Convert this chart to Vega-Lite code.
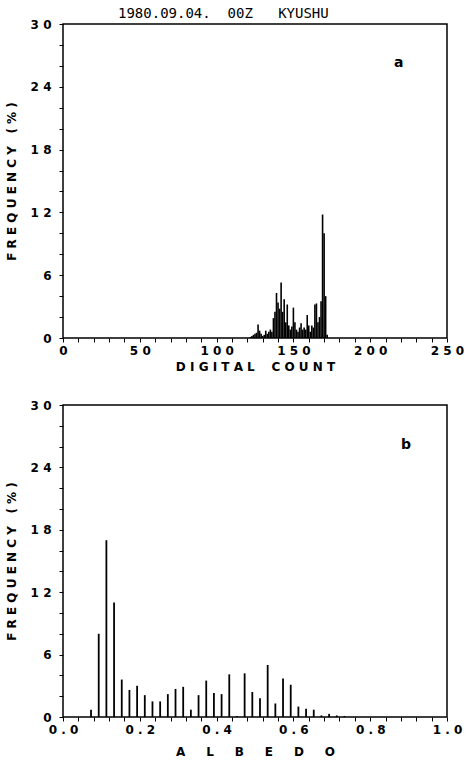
{
  "$schema": "https://vega.github.io/schema/vega-lite/v6.json",
  "background": "white",
  "padding": {"left": 4, "top": 6, "right": 0, "bottom": 0},
  "spacing": 25,
  "config": {
    "view": {"stroke": "black", "strokeWidth": 1.5},
    "axis": {
      "domain": false,
      "tickColor": "black",
      "tickSize": 4,
      "tickWidth": 1,
      "labelFont": "DejaVu Sans",
      "labelFontWeight": "bold",
      "labelFontSize": 12,
      "labelColor": "black",
      "labelOverlap": false,
      "labelFlush": false,
      "grid": false,
      "titleFont": "DejaVu Sans",
      "titleFontWeight": "bold",
      "titleFontSize": 12,
      "titleColor": "black"
    }
  },
  "datasets": {
    "dc": [
      {"count": 122, "freq": 0.1}, {"count": 123, "freq": 0.2}, {"count": 124, "freq": 0.3},
      {"count": 125, "freq": 0.4}, {"count": 126, "freq": 0.5}, {"count": 127, "freq": 1.3},
      {"count": 128, "freq": 0.7}, {"count": 129, "freq": 0.4}, {"count": 130, "freq": 0.2},
      {"count": 131, "freq": 0.3}, {"count": 132, "freq": 0.7}, {"count": 133, "freq": 0.4},
      {"count": 134, "freq": 0.6}, {"count": 135, "freq": 0.8}, {"count": 136, "freq": 0.6},
      {"count": 137, "freq": 1.9}, {"count": 138, "freq": 2.5}, {"count": 139, "freq": 4.3},
      {"count": 140, "freq": 3.4}, {"count": 141, "freq": 2.8}, {"count": 142, "freq": 5.3},
      {"count": 143, "freq": 2.5}, {"count": 144, "freq": 3.7}, {"count": 145, "freq": 1.5},
      {"count": 146, "freq": 3.2}, {"count": 147, "freq": 1.2}, {"count": 148, "freq": 0.8},
      {"count": 149, "freq": 1.1}, {"count": 150, "freq": 2.9}, {"count": 151, "freq": 1.5},
      {"count": 152, "freq": 0.8}, {"count": 153, "freq": 0.6}, {"count": 154, "freq": 1.0},
      {"count": 155, "freq": 1.4}, {"count": 156, "freq": 0.8}, {"count": 157, "freq": 1.0},
      {"count": 158, "freq": 0.8}, {"count": 159, "freq": 2.2}, {"count": 160, "freq": 1.2},
      {"count": 161, "freq": 0.6}, {"count": 162, "freq": 1.2}, {"count": 163, "freq": 1.0},
      {"count": 164, "freq": 3.2}, {"count": 165, "freq": 3.3}, {"count": 166, "freq": 1.5},
      {"count": 167, "freq": 2.0}, {"count": 168, "freq": 3.5}, {"count": 169, "freq": 11.8},
      {"count": 170, "freq": 10.0}, {"count": 171, "freq": 4.0}, {"count": 172, "freq": 0.3}
    ],
    "alb": [
      {"albedo": 0.073, "freq": 0.7}, {"albedo": 0.093, "freq": 8.0}, {"albedo": 0.113, "freq": 17.0},
      {"albedo": 0.133, "freq": 11.0}, {"albedo": 0.153, "freq": 3.6}, {"albedo": 0.173, "freq": 2.6},
      {"albedo": 0.193, "freq": 3.0}, {"albedo": 0.213, "freq": 2.1}, {"albedo": 0.233, "freq": 1.5},
      {"albedo": 0.253, "freq": 1.5}, {"albedo": 0.273, "freq": 2.2}, {"albedo": 0.293, "freq": 2.7},
      {"albedo": 0.313, "freq": 2.9}, {"albedo": 0.333, "freq": 0.7}, {"albedo": 0.353, "freq": 2.1},
      {"albedo": 0.373, "freq": 3.5}, {"albedo": 0.393, "freq": 2.3}, {"albedo": 0.413, "freq": 2.2},
      {"albedo": 0.433, "freq": 4.1}, {"albedo": 0.453, "freq": 0.1}, {"albedo": 0.473, "freq": 4.2},
      {"albedo": 0.493, "freq": 2.4}, {"albedo": 0.513, "freq": 1.8}, {"albedo": 0.533, "freq": 5.0},
      {"albedo": 0.553, "freq": 1.3}, {"albedo": 0.573, "freq": 3.7}, {"albedo": 0.593, "freq": 3.1},
      {"albedo": 0.613, "freq": 1.0}, {"albedo": 0.633, "freq": 0.8}, {"albedo": 0.653, "freq": 0.7},
      {"albedo": 0.673, "freq": 0.15}, {"albedo": 0.693, "freq": 0.3}, {"albedo": 0.713, "freq": 0.15},
      {"albedo": 0.733, "freq": 0.1}
    ],
    "labA": [{"panel": "a"}],
    "labB": [{"panel": "b"}]
  },
  "vconcat": [
    {
      "width": 384,
      "height": 314,
      "title": {
        "text": "1980.09.04.\u00a0\u00a000Z\u00a0\u00a0\u00a0KYUSHU",
        "font": "DejaVu Sans Mono",
        "fontSize": 14,
        "fontWeight": "normal",
        "color": "black",
        "anchor": "start",
        "frame": "group",
        "dx": 55,
        "offset": -3
      },
      "layer": [
        {
          "data": {"name": "dc"},
          "mark": {"type": "rule", "color": "black", "strokeWidth": 1.6},
          "encoding": {
            "x": {
              "field": "count",
              "type": "quantitative",
              "scale": {"domain": [0, 250], "nice": false, "zero": false},
              "axis": {
                "title": "D\u00a0I\u00a0G\u00a0I\u00a0T\u00a0A\u00a0L\u00a0\u00a0\u00a0\u00a0C\u00a0O\u00a0U\u00a0N\u00a0T",
                "values": [0,10,20,30,40,50,60,70,80,90,100,110,120,130,140,150,160,170,180,190,200,210,220,230,240,250],
                "tickCount": 100,
                "format": "d",
                "labelExpr": "datum.value % 50 == 0 ? join(split(datum.label, ''), '\u00a0') : ''",
                "labelOverlap": false,
                "labelPadding": 3,
                "titlePadding": 5
              }
            },
            "y": {
              "field": "freq",
              "type": "quantitative",
              "scale": {"domain": [0, 30], "nice": false},
              "axis": {
                "title": "F\u00a0R\u00a0E\u00a0Q\u00a0U\u00a0E\u00a0N\u00a0C\u00a0Y\u00a0\u00a0\u00a0(\u00a0%\u00a0)",
                "values": [0,2,4,6,8,10,12,14,16,18,20,22,24,26,28,30],
                "tickCount": 100,
                "format": "d",
                "labelExpr": "datum.value % 6 == 0 ? join(split(datum.label, ''), '\u00a0') : ''",
                "labelOverlap": false,
                "labelPadding": 8,
                "titlePadding": 12
              }
            },
            "y2": {"datum": 0}
          }
        },
        {
          "data": {"name": "labA"},
          "mark": {"type": "text", "font": "DejaVu Sans", "fontWeight": "bold", "fontSize": 14, "color": "black"},
          "encoding": {
            "text": {"field": "panel"},
            "x": {"datum": 218.5},
            "y": {"datum": 26.3}
          }
        }
      ]
    },
    {
      "width": 384,
      "height": 312,
      "layer": [
        {
          "data": {"name": "alb"},
          "mark": {"type": "rule", "color": "black", "strokeWidth": 1.8},
          "encoding": {
            "x": {
              "field": "albedo",
              "type": "quantitative",
              "scale": {"domain": [0, 1], "nice": false, "zero": false},
              "axis": {
                "title": "A\u00a0\u00a0\u00a0\u00a0\u00a0L\u00a0\u00a0\u00a0\u00a0\u00a0B\u00a0\u00a0\u00a0\u00a0\u00a0E\u00a0\u00a0\u00a0\u00a0\u00a0D\u00a0\u00a0\u00a0\u00a0\u00a0O",
                "values": [0,0.04,0.08,0.12,0.16,0.2,0.24,0.28,0.32,0.36,0.4,0.44,0.48,0.52,0.56,0.6,0.64,0.68,0.72,0.76,0.8,0.84,0.88,0.92,0.96,1.0],
                "tickCount": 100,
                "format": ".1f",
                "labelExpr": "round(datum.value * 100) % 20 == 0 ? join(split(datum.label, ''), '\u00a0') : ''",
                "labelOverlap": false,
                "labelPadding": 3,
                "titlePadding": 11
              }
            },
            "y": {
              "field": "freq",
              "type": "quantitative",
              "scale": {"domain": [0, 30], "nice": false},
              "axis": {
                "title": "F\u00a0R\u00a0E\u00a0Q\u00a0U\u00a0E\u00a0N\u00a0C\u00a0Y\u00a0\u00a0\u00a0(\u00a0%\u00a0)",
                "values": [0,2,4,6,8,10,12,14,16,18,20,22,24,26,28,30],
                "tickCount": 100,
                "format": "d",
                "labelExpr": "datum.value % 6 == 0 ? join(split(datum.label, ''), '\u00a0') : ''",
                "labelOverlap": false,
                "labelPadding": 8,
                "titlePadding": 12
              }
            },
            "y2": {"datum": 0}
          }
        },
        {
          "data": {"name": "labB"},
          "mark": {"type": "text", "font": "DejaVu Sans", "fontWeight": "bold", "fontSize": 14, "color": "black"},
          "encoding": {
            "text": {"field": "panel"},
            "x": {"datum": 0.893},
            "y": {"datum": 26.2}
          }
        }
      ]
    }
  ]
}
